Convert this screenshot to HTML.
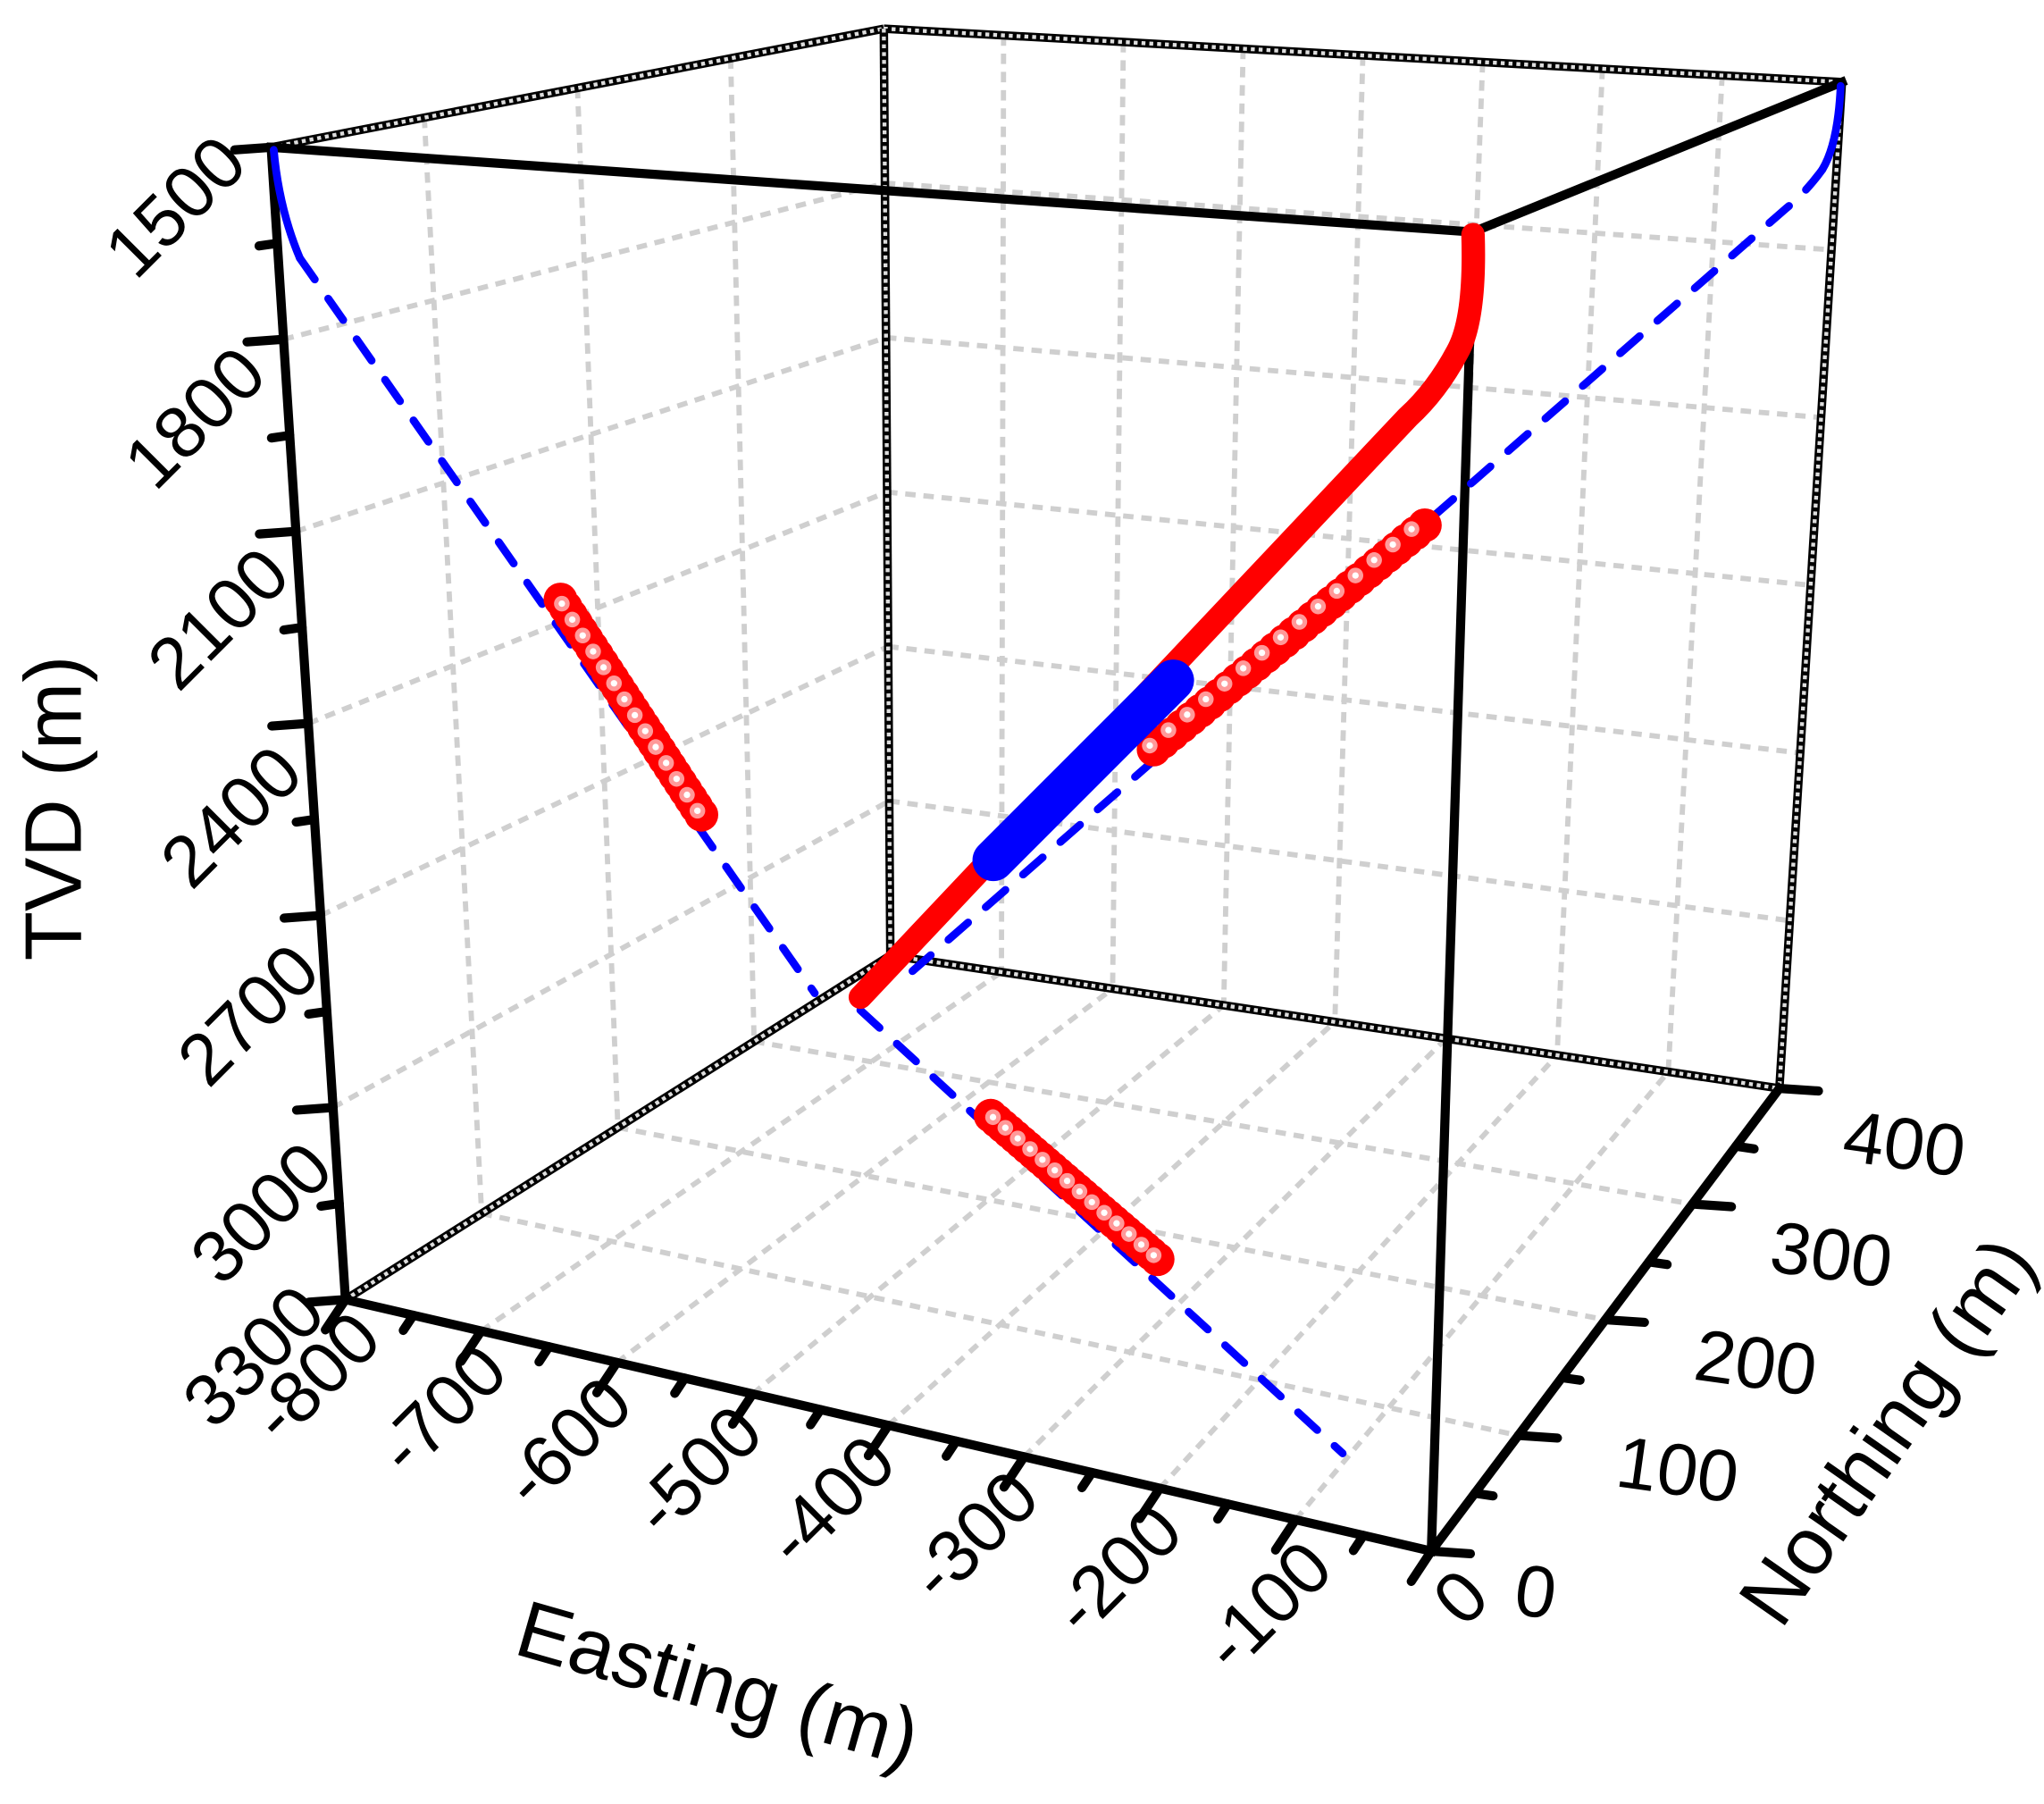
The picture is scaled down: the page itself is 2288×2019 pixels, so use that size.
<!DOCTYPE html>
<html><head><meta charset="utf-8"><style>
html,body{margin:0;padding:0;background:#fff;}
svg{display:block;}
text{font-family:"Liberation Sans",Arial,sans-serif;fill:#000;}
</style></head><body>
<svg id="s" width="2288" height="2019" viewBox="0 0 1568 1384" preserveAspectRatio="none" xmlns="http://www.w3.org/2000/svg">
<g id="grid"></g>
<g id="edges"></g>
<g id="data"></g>
<g font-size="56">
<text transform="translate(192,128) rotate(-45)" text-anchor="end">1500</text>
<text transform="translate(207,290) rotate(-45)" text-anchor="end">1800</text>
<text transform="translate(225,444) rotate(-45)" text-anchor="end">2100</text>
<text transform="translate(235,596) rotate(-45)" text-anchor="end">2400</text>
<text transform="translate(248,748) rotate(-45)" text-anchor="end">2700</text>
<text transform="translate(258,900) rotate(-45)" text-anchor="end">3000</text>
<text transform="translate(252,1010) rotate(-45)" text-anchor="end">3300</text>
<text transform="translate(295,1030) rotate(-45)" text-anchor="end">-800</text>
<text transform="translate(392,1055) rotate(-45)" text-anchor="end">-700</text>
<text transform="translate(488,1080) rotate(-45)" text-anchor="end">-600</text>
<text transform="translate(588,1102) rotate(-45)" text-anchor="end">-500</text>
<text transform="translate(690,1125) rotate(-45)" text-anchor="end">-400</text>
<text transform="translate(800,1152) rotate(-45)" text-anchor="end">-300</text>
<text transform="translate(910,1178) rotate(-45)" text-anchor="end">-200</text>
<text transform="translate(1025,1206) rotate(-45)" text-anchor="end">-100</text>
<text transform="translate(1145,1228) rotate(-45)" text-anchor="end">0</text>
<text transform="translate(1160,1238) rotate(8)">0</text>
<text transform="translate(1238,1140) rotate(8)">100</text>
<text transform="translate(1298,1058) rotate(8)">200</text>
<text transform="translate(1356,975) rotate(8)">300</text>
<text transform="translate(1412,890) rotate(8)">400</text>
</g>
<g font-size="62">
<text transform="translate(62,620) rotate(-90)" text-anchor="middle">TVD (m)</text>
<text transform="translate(545,1312) rotate(16)" text-anchor="middle">Easting (m)</text>
<text transform="translate(1465,1110) rotate(-55)" text-anchor="middle">Northing (m)</text>
</g>
</svg>
<script>
var NS="http://www.w3.org/2000/svg";
function el(p,n,a){var e=document.createElementNS(NS,n);for(var k in a)e.setAttribute(k,a[k]);p.appendChild(e);return e;}
var A=[208,113],B=[1130,178],C=[1413,63],D=[678,22],E=[265,997],F=[1098,1190],G=[1365,835],H=[683,733];
function L(p,q,t){return [p[0]+(q[0]-p[0])*t,p[1]+(q[1]-p[1])*t];}
function bil(p00,p10,p01,p11,u,v){return L(L(p00,p10,u),L(p01,p11,u),v);}
var g=document.getElementById('grid');
function gl(a,b){el(g,'line',{x1:a[0],y1:a[1],x2:b[0],y2:b[1],stroke:'#cfcfcf','stroke-width':4,'stroke-dasharray':'8 6'});}
for(var i=1;i<8;i++){var u=i/8;gl(bil(D,C,H,G,u,0),bil(D,C,H,G,u,1));}
for(var j=1;j<6;j++){var v=j/6;gl(bil(D,C,H,G,0,v),bil(D,C,H,G,1,v));}
for(var i=1;i<4;i++){var u=i/4;gl(bil(A,D,E,H,u,0),bil(A,D,E,H,u,1));}
for(var j=1;j<6;j++){var v=j/6;gl(bil(A,D,E,H,0,v),bil(A,D,E,H,1,v));}
for(var i=1;i<8;i++){var u=i/8;gl(bil(E,F,H,G,u,0),bil(E,F,H,G,u,1));}
for(var j=1;j<4;j++){var v=j/4;gl(bil(E,F,H,G,0,v),bil(E,F,H,G,1,v));}
var ed=document.getElementById('edges');
function dotted(a,b){el(ed,'line',{x1:a[0],y1:a[1],x2:b[0],y2:b[1],stroke:'#000','stroke-width':6.5});
el(ed,'line',{x1:a[0],y1:a[1],x2:b[0],y2:b[1],stroke:'#ddd','stroke-width':3,'stroke-dasharray':'3 3'});}
function solid(a,b){el(ed,'line',{x1:a[0],y1:a[1],x2:b[0],y2:b[1],stroke:'#000','stroke-width':7,'stroke-linecap':'square'});}
dotted(A,D);dotted(D,C);dotted(D,H);dotted(H,G);dotted(H,E);dotted(C,G);
solid(A,B);solid(B,C);solid(A,E);solid(E,F);solid(F,B);solid(F,G);
function tick(p,dx,dy){el(ed,'line',{x1:p[0],y1:p[1],x2:p[0]+dx,y2:p[1]+dy,stroke:'#000','stroke-width':7,'stroke-linecap':'round'});}
for(var k=0;k<=12;k++){var p=L(A,E,k/12);var len=k%2?14:28;tick(p,-len,2);}
for(var k=0;k<=16;k++){var p=L(E,F,k/16);var len=k%2?14:28;tick(p,-len*0.55,len*0.83);}
for(var k=0;k<=8;k++){var p=L(F,G,k/8);var len=k%2?14:30;tick(p,len,2);}
var d=document.getElementById('data');
function path(dstr,col,w,dash){var a={d:dstr,fill:'none',stroke:col,'stroke-width':w,'stroke-linecap':'round','stroke-linejoin':'round'};if(dash)a['stroke-dasharray']=dash;el(d,'path',a);}
path('M210,115 Q214,160 230,198','#00f',6);
path('M230,198 L625,762','#00f',6,'20 18');
path('M660,775 L1030,1115','#00f',6,'20 18');
path('M1412,66 Q1410,110 1398,130','#00f',6);
path('M1398,130 Q1385,148 1370,160 L700,745','#00f',6,'20 18');
function dots(x1,y1,x2,y2,n){for(var i=0;i<n;i++){var t=i/(n-1);var x=x1+(x2-x1)*t,y=y1+(y2-y1)*t;el(d,'circle',{cx:x,cy:y,r:13,fill:'#f00'});}
for(var i=0;i<n;i+=2){var t=i/(n-1);var x=x1+(x2-x1)*t,y=y1+(y2-y1)*t;el(d,'circle',{cx:x-3,cy:y-3,r:6,fill:'#f99'});el(d,'circle',{cx:x-3,cy:y-3,r:2.5,fill:'#fff'});}}
dots(538,625,430,460,28);
dots(888,966,760,856,28);
dots(885,575,1093,403,30);
path('M1130,180 Q1132,245 1118,270 Q1102,300 1080,320 L660,765','#f00',18);
path('M900,522 L762,660','#00f',32);
</script>
</body></html>
